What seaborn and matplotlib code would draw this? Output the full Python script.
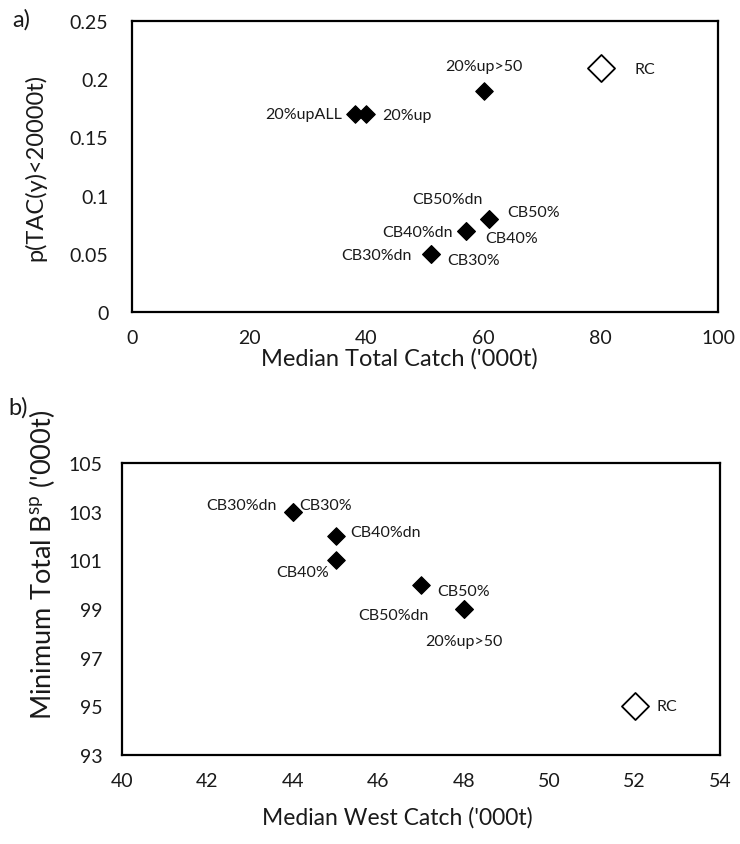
import matplotlib
matplotlib.use("Agg")
import matplotlib.pyplot as plt
import seaborn as sns
import pandas as pd

# Panel a: median total catch vs probability of a low TAC
names_a = ["RC", "20%up>50", "20%upALL", "20%up", "CB50%dn", "CB50%",
           "CB40%dn", "CB40%", "CB30%dn", "CB30%"]
catch_a = [80, 60, 38, 40, 61, 61, 57, 57, 51, 51]
ptac_a = [0.21, 0.19, 0.17, 0.17, 0.08, 0.08, 0.07, 0.07, 0.05, 0.05]

# Panel b: median west catch vs minimum total spawning biomass
names_b = ["RC", "CB30%dn", "CB30%", "CB40%dn", "CB40%", "CB50%",
           "CB50%dn", "20%up>50"]
west_b = [52, 44, 44, 45, 45, 47, 48, 48]
bsp_b = [95, 103, 103, 102, 101, 100, 99, 99]

xticks_a = [0, 20, 40, 60, 80, 100]
yticks_a = [0, 0.05, 0.1, 0.15, 0.2, 0.25]
ytick_labels_a = ["0", "0.05", "0.1", "0.15", "0.2", "0.25"]
xticks_b = [40, 42, 44, 46, 48, 50, 52, 54]
yticks_b = [93, 95, 97, 99, 101, 103, 105]

# label offsets in pixels (dx, dy, ha)
offs_a = {
    "RC": (34, -1, "left"), "20%up>50": (0, 25, "center"),
    "20%upALL": (-13, 0, "right"), "20%up": (16, -1, "left"),
    "CB50%dn": (-42, 20, "center"), "CB50%": (18, 7, "left"),
    "CB40%dn": (-13, -1, "right"), "CB40%": (19, -7, "left"),
    "CB30%dn": (-19, -1, "right"), "CB30%": (16, -6, "left"),
}
offs_b = {
    "RC": (22, 0, "left"), "CB30%dn": (-16, 7, "right"),
    "CB30%": (6, 7, "left"), "CB40%dn": (15, 4, "left"),
    "CB40%": (-33, -12, "center"), "CB50%": (16, -6, "left"),
    "CB50%dn": (-70, -6, "center"), "20%up>50": (0, -32, "center"),
}

sns.set_theme(style="white")
plt.rcParams["font.family"] = ["Lato", "DejaVu Sans"]
plt.rcParams["mathtext.fontset"] = "custom"
plt.rcParams["mathtext.rm"] = "Lato"

df_a = pd.DataFrame({"name": names_a, "x": catch_a, "y": ptac_a})
df_b = pd.DataFrame({"name": names_b, "x": west_b, "y": bsp_b})

fig = plt.figure(figsize=(7.4, 8.45), dpi=100)
ax_a = fig.add_axes([0.1784, 0.6296, 0.7919, 0.3444])
ax_b = fig.add_axes([0.1649, 0.1053, 0.8081, 0.3456])

TICK_FS = 14
ANN_FS = 11.5
TEXT_C = "#1a1a1a"


def draw_panel(ax, df, offs, xpad, ypad):
    base = df[df["name"] == "RC"]
    rest = df[df["name"] != "RC"]
    sns.scatterplot(data=rest, x="x", y="y", ax=ax, marker="D", s=80,
                    color="black", edgecolor="black", linewidth=0.8,
                    legend=False, zorder=3)
    sns.scatterplot(data=base, x="x", y="y", ax=ax, marker="D", s=190,
                    facecolor="white", edgecolor="black", linewidth=1.3,
                    legend=False, zorder=3)
    for _, r in df.iterrows():
        dx, dy, ha = offs[r["name"]]
        ax.annotate(r["name"], (r["x"], r["y"]), xytext=(dx, dy),
                    textcoords="offset pixels", ha=ha, va="center",
                    fontsize=ANN_FS, color=TEXT_C)
    for sp in ax.spines.values():
        sp.set_color("black")
        sp.set_linewidth(1.6)
    ax.tick_params(length=0, labelsize=TICK_FS, colors=TEXT_C)
    ax.tick_params(axis="x", pad=xpad)
    ax.tick_params(axis="y", pad=ypad)


draw_panel(ax_a, df_a, offs_a, xpad=12, ypad=17)
ax_a.set_xlim(0, 100)
ax_a.set_ylim(0, 0.25)
ax_a.set_xticks(xticks_a)
ax_a.set_yticks(yticks_a)
ax_a.set_yticklabels(ytick_labels_a)
ax_a.set_xlabel("Median Total Catch ('000t)", fontsize=17, color=TEXT_C)
ax_a.set_ylabel("p(TAC(y)<20000t)", fontsize=17, color=TEXT_C)
ax_a.xaxis.set_label_coords(0.456, -0.158)
ax_a.xaxis.label.set_va("center")
ax_a.yaxis.set_label_coords(-0.1655, 0.5)
ax_a.yaxis.label.set_va("center")

draw_panel(ax_b, df_b, offs_b, xpad=12, ypad=14)
ax_b.set_xlim(40, 54)
ax_b.set_ylim(93, 105)
ax_b.set_xticks(xticks_b)
ax_b.set_yticks(yticks_b)
ax_b.set_xlabel("Median West Catch ('000t)", fontsize=16.5, color=TEXT_C)
ax_b.set_ylabel(r"Minimum Total B$^{\mathregular{sp}}$ ('000t)",
                fontsize=19.5, color=TEXT_C)
ax_b.xaxis.set_label_coords(0.46, -0.212)
ax_b.xaxis.label.set_va("center")
ax_b.yaxis.set_label_coords(-0.134, 0.654)
ax_b.yaxis.label.set_va("center")

fig.text(0.017, 0.976, "a)", fontsize=17, ha="left", va="center",
         color=TEXT_C)
fig.text(0.011, 0.517, "b)", fontsize=17, ha="left", va="center",
         color=TEXT_C)

fig.savefig("out.png", dpi=100, facecolor="white")
